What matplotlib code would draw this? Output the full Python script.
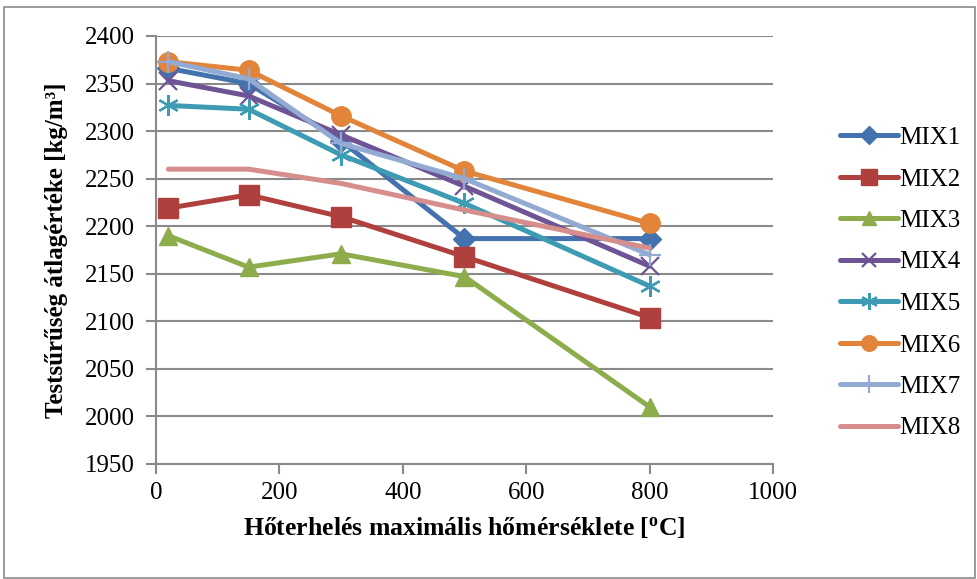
import matplotlib
matplotlib.use("Agg")
import matplotlib.pyplot as plt
from matplotlib.patches import Rectangle

plt.rcParams['font.family'] = ['Liberation Serif', 'DejaVu Serif']
plt.rcParams['mathtext.fontset'] = 'custom'
plt.rcParams['mathtext.rm'] = 'Liberation Serif'
plt.rcParams['mathtext.bf'] = 'Liberation Serif:bold'

temps = [20, 150, 300, 500, 800]
mix1 = [2366, 2350, 2290, 2187, 2187]
mix2 = [2219, 2233, 2210, 2168, 2104]
mix3 = [2190, 2157, 2171, 2147, 2010]
mix4 = [2353, 2337, 2296, 2242, 2158]
mix5 = [2327, 2323, 2275, 2224, 2137]
mix6 = [2373, 2364, 2316, 2258, 2203]
mix7 = [2373, 2355, 2287, 2250, 2170]
mix8 = [2260, 2260, 2245, 2217, 2177]
names = ["MIX1", "MIX2", "MIX3", "MIX4", "MIX5", "MIX6", "MIX7", "MIX8"]
series = [mix1, mix2, mix3, mix4, mix5, mix6, mix7, mix8]

colors = ["#4472AE", "#B0403D", "#8DAD4C", "#6F5495", "#3D9BB3", "#E2843A", "#93ABD3", "#D68E8D"]
asterisk = (6, 2, 0)
markers = ["D", "s", "^", "x", asterisk, "o", "+", None]
msizes = [11, 14, 13, 13, 15, 14, 16, 0]
mews = [1, 1, 1, 1.6, 1.6, 1, 1.6, 0]

fig = plt.figure(figsize=(9.78, 5.79), dpi=100)
ax = fig.add_axes([156/978, 1-464/579, (773-156)/978, (464-36)/579])

for name, ys, c, m, ms, mew in zip(names, series, colors, markers, msizes, mews):
    ax.plot(temps, ys, color=c, lw=3.6, marker=m, markersize=ms,
            markeredgewidth=mew, markeredgecolor=c, markerfacecolor=c,
            solid_capstyle='round', label=name)

ax.set_xlim(0, 1000)
ax.set_ylim(1950, 2400)
ax.set_xticks(range(0, 1001, 200))
ax.set_yticks(range(1950, 2401, 50))
ax.yaxis.grid(True, color="#8a8a8a", lw=1.5)
ax.set_axisbelow(True)
for s in ["top", "right"]:
    ax.spines[s].set_visible(False)
for s in ["left", "bottom"]:
    ax.spines[s].set_color("#8a8a8a")
    ax.spines[s].set_linewidth(1.5)
ax.tick_params(axis='both', direction='out', length=7, width=1.5, color="#8a8a8a",
               labelsize=18, pad=6)
ax.tick_params(axis='y', pad=8)

ax.set_xlabel(r"Hőterhelés maximális hőmérséklete [$\mathbf{^{o}}$C]", fontsize=18.5,
              fontweight='bold', labelpad=8)
ax.set_ylabel("Testsűrűség átlagértéke [kg/m³]", fontsize=18, fontweight='bold',
              labelpad=12)

leg = fig.legend(loc='upper left', bbox_to_anchor=(818/978, 1-104/579), frameon=False,
                 fontsize=18, handlelength=2.3, handletextpad=0.05, labelspacing=0.76,
                 markerscale=0.8)

fig.patches.append(Rectangle((4/978, 1/579), 971/978, 571/579, transform=fig.transFigure,
                             fill=False, edgecolor="#8a8a8a", lw=1.2))

fig.savefig("out.png", dpi=100)
